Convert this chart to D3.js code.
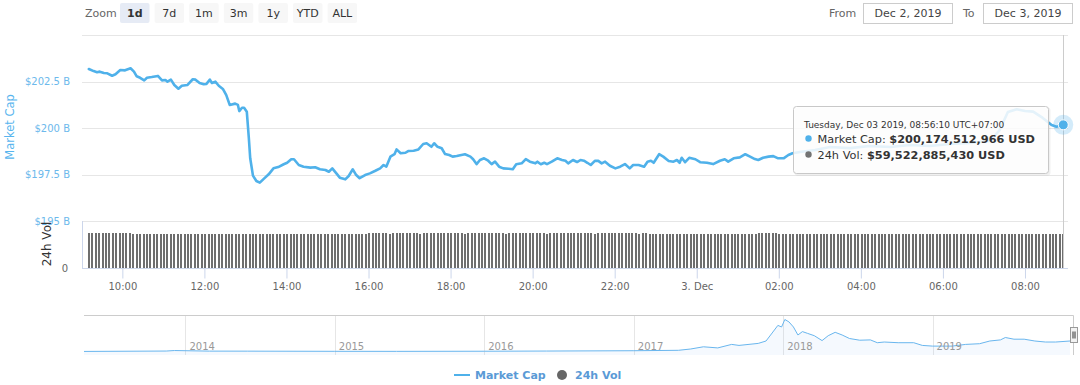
<!DOCTYPE html>
<html>
<head>
<meta charset="utf-8">
<script src="https://cdn.jsdelivr.net/npm/d3@7"></script>
<style>
body { margin: 0; background: #fff; }
svg { display: block; font-family: "DejaVu Sans", sans-serif; }
</style>
</head>
<body>
<div id="chart"></div>
<script>
// market cap, Dec 2 - Dec 3 2019 (billions USD)
var capTimes = [
  "02 09:11","02 09:18","02 09:23","02 09:27","02 09:33","02 09:38","02 09:45","02 09:50","02 09:57","02 10:04",
  "02 10:12","02 10:17","02 10:21","02 10:26","02 10:32","02 10:36","02 10:43","02 10:52","02 10:58","02 11:03",
  "02 11:06","02 11:11","02 11:16","02 11:22","02 11:27","02 11:35","02 11:43","02 11:47","02 11:53","02 11:59",
  "02 12:03","02 12:08","02 12:11","02 12:16","02 12:21","02 12:27","02 12:32","02 12:37","02 12:45","02 12:49",
  "02 12:51","02 12:55","02 12:58","02 13:02","02 13:05","02 13:07","02 13:11","02 13:16","02 13:21","02 13:26",
  "02 13:34","02 13:41","02 13:48","02 13:56","02 14:01","02 14:07","02 14:11","02 14:18","02 14:25","02 14:35",
  "02 14:42","02 14:49","02 14:57","02 15:02","02 15:07","02 15:13","02 15:18","02 15:26","02 15:31","02 15:37",
  "02 15:42","02 15:47","02 15:55","02 16:02","02 16:10","02 16:17","02 16:22","02 16:26","02 16:32","02 16:38",
  "02 16:41","02 16:47","02 16:54","02 16:58","02 17:06","02 17:13","02 17:20","02 17:25","02 17:32","02 17:36",
  "02 17:41","02 17:47","02 17:52","02 17:58","02 18:03","02 18:09","02 18:21","02 18:29","02 18:33","02 18:38",
  "02 18:43","02 18:49","02 18:55","02 19:00","02 19:05","02 19:11","02 19:17","02 19:25","02 19:31","02 19:36",
  "02 19:44","02 19:50","02 19:56","02 20:04","02 20:07","02 20:12","02 20:17","02 20:21","02 20:28","02 20:36",
  "02 20:43","02 20:48","02 20:52","02 20:59","02 21:05","02 21:10","02 21:15","02 21:20","02 21:25","02 21:31",
  "02 21:36","02 21:41","02 21:46","02 21:53","02 22:01","02 22:08","02 22:15","02 22:22","02 22:27","02 22:35",
  "02 22:43","02 22:48","02 22:53","02 22:57","02 23:05","02 23:11","02 23:19","02 23:26","02 23:31","02 23:35",
  "02 23:38","02 23:43","02 23:49","02 23:58","03 00:05","03 00:15","03 00:24","03 00:34","03 00:41","03 00:46",
  "03 00:54","03 01:03","03 01:11","03 01:18","03 01:25","03 01:30","03 01:37","03 01:45","03 01:52","03 01:59",
  "03 02:07","03 02:14","03 02:20","03 02:31","03 02:53","03 03:15","03 03:44","03 04:13","03 04:43","03 05:12",
  "03 05:41","03 06:10","03 06:39","03 07:09","03 07:23","03 07:35","03 07:48","03 08:00","03 08:12","03 08:26",
  "03 08:39","03 08:46","03 08:56"
];
var capValues = [
  203.17,203.06,203.00,203.03,202.96,202.94,202.81,202.89,203.12,203.10,
  203.21,203.03,202.78,202.70,202.56,202.70,202.74,202.80,202.56,202.58,
  202.49,202.60,202.31,202.11,202.27,202.31,202.62,202.60,202.42,202.35,
  202.37,202.60,202.42,202.49,202.27,202.10,201.77,201.24,201.31,201.24,
  200.91,201.09,201.09,200.88,199.45,198.37,197.44,197.15,197.06,197.24,
  197.51,197.83,197.90,198.05,198.13,198.32,198.32,198.01,197.92,197.87,
  197.89,197.78,197.74,197.65,197.83,197.56,197.33,197.24,197.42,197.78,
  197.47,197.30,197.47,197.56,197.70,197.83,198.01,197.92,198.46,198.59,
  198.85,198.64,198.67,198.76,198.78,198.85,199.14,199.18,198.99,199.18,
  198.99,198.91,198.60,198.55,198.46,198.49,198.59,198.46,198.32,198.06,
  198.28,198.37,198.24,198.06,198.19,197.92,197.83,197.81,197.78,198.05,
  198.10,198.33,198.19,198.10,198.19,198.05,198.13,198.06,198.19,198.37,
  198.28,198.24,198.10,198.28,198.17,198.28,198.24,198.13,198.01,198.23,
  198.23,198.10,198.19,197.97,197.83,197.92,198.06,197.83,198.01,198.01,
  197.92,198.19,198.24,198.13,198.59,198.46,198.23,198.19,198.28,198.13,
  198.40,198.16,198.40,198.32,198.16,198.13,198.06,198.24,198.32,198.19,
  198.37,198.42,198.59,198.46,198.33,198.28,198.40,198.46,198.49,198.37,
  198.37,198.55,198.64,198.71,198.82,198.98,198.92,199.03,198.98,199.09,
  199.03,199.14,199.19,199.30,199.89,200.86,201.01,200.91,200.88,200.54,
  200.16,200.07,200.17
];
var capTicks = [195, 197.5, 200, 202.5, 205];

// 24h volume, one bar every 5 minutes (billions USD)
var volStart = "02 09:11";
var volValues = [
  61.3,61.2,61.2,61.1,61.1,61.0,61.0,60.7,60.6,60.6,
  60.5,60.5,60.6,59.7,59.6,59.6,59.6,59.5,59.6,59.6,
  59.6,59.5,59.5,59.6,59.6,59.7,59.6,59.6,59.5,59.5,
  59.6,59.6,59.6,59.7,59.7,59.6,59.6,59.5,59.5,59.6,
  59.6,59.6,59.5,59.5,59.6,59.6,59.6,59.7,59.6,59.6,
  59.6,59.5,59.5,59.6,59.6,59.6,59.5,59.6,59.6,59.7,
  59.7,59.6,59.6,59.6,59.5,59.5,59.6,59.6,59.6,59.6,
  59.6,59.7,59.6,59.6,59.6,59.5,59.6,59.6,59.7,59.8,
  59.9,60.0,60.2,60.2,60.3,60.2,60.2,60.2,60.1,60.2,
  60.2,60.2,60.3,60.3,60.2,60.2,60.2,60.1,60.2,60.2,
  60.2,60.3,60.2,60.2,60.2,60.2,60.3,60.2,60.2,60.2,
  60.1,60.2,60.2,60.2,60.2,60.3,60.3,60.2,60.2,60.2,
  60.2,60.2,60.1,60.2,60.2,60.2,60.2,60.3,60.2,60.2,
  60.2,60.2,60.2,60.2,60.1,60.2,60.2,60.2,60.3,60.2,
  60.2,60.2,60.2,60.2,60.2,60.3,60.2,60.2,60.1,60.2,
  60.2,60.2,60.2,60.2,60.2,60.2,60.2,60.3,60.2,60.2,
  60.2,60.1,60.2,60.2,60.1,60.0,59.9,59.7,59.6,59.6,
  59.6,59.6,59.5,59.6,59.6,59.6,59.6,59.5,59.6,59.6,
  59.6,59.6,59.6,59.5,59.6,59.6,59.6,59.6,59.6,59.5,
  59.6,59.6,59.7,59.6,59.8,60.1,60.4,60.6,60.6,60.5,
  60.4,60.2,59.7,59.6,59.5,59.5,59.6,59.5,59.5,59.5,
  59.5,59.6,59.5,59.5,59.5,59.5,59.6,59.5,59.5,59.5,
  59.5,59.5,59.5,59.6,59.5,59.5,59.5,59.5,59.4,59.5,
  59.5,59.5,59.5,59.5,59.6,59.5,59.5,59.5,59.5,59.5,
  59.5,59.4,59.5,59.5,59.5,59.5,59.5,59.6,59.5,59.5,
  59.5,59.5,59.5,59.5,59.5,59.4,59.5,59.5,59.5,59.5,
  59.5,59.5,59.6,59.5,59.5,59.5,59.5,59.5,59.5,59.5,
  59.5,59.5,59.5,59.4,59.5,59.5,59.5,59.5,59.5,59.5,
  59.5,59.5,59.5,59.5,59.5,59.52
];

// navigator: whole history
var navDates = [
  "2013-04-28","2013-11-15","2013-12-05","2014-03-01","2014-06-01","2015-01-01","2015-06-01","2016-01-01","2016-06-01","2017-01-01",
  "2017-04-20","2017-05-20","2017-06-20","2017-07-25","2017-08-28","2017-09-15","2017-11-01","2017-11-20","2017-12-05","2017-12-19",
  "2017-12-28","2018-01-05","2018-01-15","2018-01-26","2018-02-06","2018-02-17","2018-03-01","2018-03-18","2018-04-06","2018-04-21",
  "2018-05-08","2018-05-25","2018-06-12","2018-07-07","2018-08-02","2018-08-19","2018-09-05","2018-10-09","2018-11-16","2018-12-07",
  "2019-01-01","2019-02-18","2019-03-23","2019-04-26","2019-05-21","2019-06-16","2019-06-28","2019-07-19","2019-08-13","2019-09-08",
  "2019-10-04","2019-10-29","2019-12-03"
];
var navValues = [
  2,12,25,10,9,5,4,7,12,20,
  31,65,122,93,184,158,210,272,480,677,
  636,830,768,636,428,516,472,410,283,410,
  498,428,337,293,301,228,246,228,228,158,
  140,140,184,202,272,301,363,319,319,272,
  246,246,272
];
var navYears = [2014, 2015, 2016, 2017, 2018, 2019];

var zoomButtons = ["1d", "7d", "1m", "3m", "1y", "YTD", "ALL"];
var fromDate = "Dec 2, 2019";
var toDate = "Dec 3, 2019";
var tipHeader = "Tuesday, Dec 03 2019, 08:56:10 UTC+07:00";
var tipCap = "$200,174,512,966 USD";
var tipVol = "$59,522,885,430 USD";

var lineColor = "#4fb1ea";
var labelBlue = "#6cb9ec";

var width = 1080, height = 385;
var parseTime = d3.timeParse("%Y-%m-%d %H:%M");
function t(s) { return parseTime("2019-12-" + s); }

var svg = d3.select("#chart").append("svg")
    .attr("width", width)
    .attr("height", height);

var x = d3.scaleTime()
    .domain([t("02 09:01"), t("03 09:00")])
    .range([82, 1066]);
var y = d3.scaleLinear().domain([195, 205]).range([221, 35]);
var yVol = d3.scaleLinear().domain([0, 82]).range([268, 221]);

// gridlines
svg.append("g").selectAll("line")
    .data(capTicks)
    .enter().append("line")
    .attr("x1", 82).attr("x2", 1068)
    .attr("y1", d => Math.round(y(d)) + 0.5)
    .attr("y2", d => Math.round(y(d)) + 0.5)
    .attr("stroke", "#e6e6e6");

svg.append("g").selectAll("text")
    .data(capTicks.filter(d => d < 205))
    .enter().append("text")
    .attr("x", 70)
    .attr("y", d => y(d) + 3.5)
    .attr("text-anchor", "end")
    .attr("font-size", 10)
    .attr("fill", labelBlue)
    .text(d => "$" + d + " B");

svg.append("text")
    .attr("transform", "translate(14,127) rotate(-90)")
    .attr("text-anchor", "middle")
    .attr("font-size", 11.5)
    .attr("fill", "#58b5ee")
    .text("Market Cap");

// volume panel
svg.append("line")
    .attr("x1", 82.5).attr("x2", 82.5)
    .attr("y1", 221).attr("y2", 268)
    .attr("stroke", "#ccd6eb");

var volStep = x(d3.timeMinute.offset(t(volStart), 5)) - x(t(volStart));
svg.append("g")
    .attr("shape-rendering", "crispEdges")
    .selectAll("rect")
    .data(volValues)
    .enter().append("rect")
    .attr("x", (d, i) => Math.round(x(d3.timeMinute.offset(t(volStart), 5 * i)) - 1))
    .attr("width", 2)
    .attr("y", d => Math.round(yVol(d)))
    .attr("height", d => 268 - Math.round(yVol(d)))
    .attr("fill", "#6e6e6e");

svg.append("text")
    .attr("x", 68).attr("y", 271.5)
    .attr("text-anchor", "end")
    .attr("font-size", 10)
    .attr("fill", "#666")
    .text("0");

svg.append("text")
    .attr("transform", "translate(51,244) rotate(-90)")
    .attr("text-anchor", "middle")
    .attr("font-size", 12)
    .attr("fill", "#333")
    .text("24h Vol");

// x axis
var xAxis = d3.axisBottom(x)
    .ticks(d3.timeHour.every(2))
    .tickSize(10)
    .tickSizeOuter(0)
    .tickPadding(4)
    .tickFormat(d => d.getHours() === 0 ? d3.timeFormat("%-d. %b")(d) : d3.timeFormat("%H:%M")(d));

var gx = svg.append("g")
    .attr("transform", "translate(0,268.5)")
    .call(xAxis);
gx.select(".domain").remove();
gx.selectAll(".tick line").attr("stroke", "#ccd6eb");
gx.selectAll(".tick text")
    .attr("fill", "#666")
    .attr("font-size", 10)
    .attr("font-family", "DejaVu Sans, sans-serif");
svg.append("line")
    .attr("x1", 82).attr("x2", 1068)
    .attr("y1", 268.5).attr("y2", 268.5)
    .attr("stroke", "#ccd6eb");

// crosshair
svg.append("line")
    .attr("x1", Math.round(x(t("03 08:56"))) + 0.5)
    .attr("x2", Math.round(x(t("03 08:56"))) + 0.5)
    .attr("y1", 35).attr("y2", 268)
    .attr("stroke", "#cccccc");

// market cap line
var capData = capTimes.map((s, i) => ({ date: t(s), value: capValues[i] }));
var line = d3.line()
    .x(d => x(d.date))
    .y(d => y(d.value));

svg.append("path")
    .datum(capData)
    .attr("fill", "none")
    .attr("stroke", lineColor)
    .attr("stroke-width", 2.6)
    .attr("stroke-linejoin", "round")
    .attr("stroke-linecap", "round")
    .attr("d", line);

var last = capData[capData.length - 1];
svg.append("circle")
    .attr("cx", x(last.date)).attr("cy", y(last.value))
    .attr("r", 10)
    .attr("fill", lineColor)
    .attr("opacity", 0.25);
svg.append("circle")
    .attr("cx", x(last.date)).attr("cy", y(last.value))
    .attr("r", 5)
    .attr("fill", lineColor)
    .attr("stroke", "#fff")
    .attr("stroke-width", 1);

// tooltip
var tip = svg.append("g").attr("transform", "translate(793,106)");
tip.append("rect")
    .attr("x", 1.5).attr("y", 1.5)
    .attr("width", 256).attr("height", 68)
    .attr("rx", 3)
    .attr("fill", "rgba(0,0,0,0.06)");
tip.append("rect")
    .attr("x", 0.5).attr("y", 0.5)
    .attr("width", 255).attr("height", 67)
    .attr("rx", 3)
    .attr("fill", "rgba(255,255,255,0.85)")
    .attr("stroke", "#c8c8c8");
tip.append("text")
    .attr("x", 11).attr("y", 22)
    .attr("font-size", 9)
    .attr("fill", "#333")
    .text(tipHeader);

var tipRows = [
  { color: lineColor, name: "Market Cap: ", value: tipCap },
  { color: "#737373", name: "24h Vol: ", value: tipVol }
];
tipRows.forEach(function(r, i) {
    var yy = 36.5 + i * 16;
    tip.append("circle")
        .attr("cx", 15.5).attr("cy", yy - 4)
        .attr("r", 3.2)
        .attr("fill", r.color);
    var txt = tip.append("text")
        .attr("x", 24.5).attr("y", yy)
        .attr("font-size", 11.3)
        .attr("fill", "#333");
    txt.append("tspan").text(r.name);
    txt.append("tspan").attr("font-weight", "bold").text(r.value);
});

// navigator
var navTop = 315.5, navBottom = 355;
var parseDay = d3.timeParse("%Y-%m-%d");
var xNav = d3.scaleTime()
    .domain([parseDay("2013-04-28"), parseDay("2019-12-03")])
    .range([84, 1070]);
var yNav = d3.scaleLinear().domain([0, 830]).range([351.5, 319.5]);
var navData = navDates.map((s, i) => ({ date: parseDay(s), value: navValues[i] }));

svg.append("g").selectAll("line")
    .data(navYears)
    .enter().append("line")
    .attr("x1", d => Math.round(xNav(new Date(d, 0, 1))) + 0.5)
    .attr("x2", d => Math.round(xNav(new Date(d, 0, 1))) + 0.5)
    .attr("y1", navTop).attr("y2", navBottom)
    .attr("stroke", "#e6e6e6");

svg.append("path")
    .datum(navData)
    .attr("fill", "rgba(124,181,236,0.08)")
    .attr("d", d3.area().x(d => xNav(d.date)).y0(navBottom).y1(d => yNav(d.value)));
svg.append("path")
    .datum(navData)
    .attr("fill", "none")
    .attr("stroke", "#69b6ee")
    .attr("stroke-width", 1)
    .attr("d", d3.line().x(d => xNav(d.date)).y(d => yNav(d.value)));

svg.append("g").selectAll("text")
    .data(navYears)
    .enter().append("text")
    .attr("x", d => xNav(new Date(d, 0, 1)) + 4)
    .attr("y", 350)
    .attr("font-size", 10)
    .attr("fill", "#999")
    .text(d => d);

svg.append("path")
    .attr("d", "M84," + navTop + "H1073.5V" + navBottom)
    .attr("fill", "none")
    .attr("stroke", "#cccccc");

var handle = svg.append("g").attr("transform", "translate(1070.5,327.5)");
handle.append("rect")
    .attr("width", 7).attr("height", 15)
    .attr("fill", "#f2f2f2").attr("stroke", "#999");
handle.append("path")
    .attr("d", "M2.5,4V11M4.5,4V11")
    .attr("stroke", "#333");

// legend
var legend = svg.append("g").attr("font-size", 11).attr("font-weight", "bold");
legend.append("line")
    .attr("x1", 454).attr("x2", 470)
    .attr("y1", 375).attr("y2", 375)
    .attr("stroke", lineColor).attr("stroke-width", 2);
legend.append("text")
    .attr("x", 475).attr("y", 379)
    .attr("fill", "#5a9ad6")
    .text("Market Cap");
legend.append("circle")
    .attr("cx", 562).attr("cy", 375)
    .attr("r", 5)
    .attr("fill", "#666");
legend.append("text")
    .attr("x", 575).attr("y", 379)
    .attr("fill", "#5a9ad6")
    .text("24h Vol");

// range selector
var rangeBar = svg.append("g").attr("font-size", 11);
rangeBar.append("text")
    .attr("x", 85).attr("y", 17)
    .attr("fill", "#666")
    .text("Zoom");
zoomButtons.forEach(function(b, i) {
    var bx = 120 + i * 34.6;
    rangeBar.append("rect")
        .attr("x", bx).attr("y", 3)
        .attr("width", 29.5).attr("height", 20)
        .attr("rx", 2)
        .attr("fill", i === 0 ? "#e6ebf5" : "#f7f7f7");
    rangeBar.append("text")
        .attr("x", bx + 14.75).attr("y", 17)
        .attr("text-anchor", "middle")
        .attr("font-weight", i === 0 ? "bold" : "normal")
        .attr("fill", "#333")
        .text(b);
});

rangeBar.append("text")
    .attr("x", 829).attr("y", 17)
    .attr("fill", "#666")
    .text("From");
rangeBar.append("rect")
    .attr("x", 863.5).attr("y", 3.5)
    .attr("width", 89).attr("height", 20)
    .attr("fill", "#fff").attr("stroke", "#cccccc");
rangeBar.append("text")
    .attr("x", 908).attr("y", 17)
    .attr("text-anchor", "middle")
    .attr("fill", "#444")
    .text(fromDate);
rangeBar.append("text")
    .attr("x", 963).attr("y", 17)
    .attr("fill", "#666")
    .text("To");
rangeBar.append("rect")
    .attr("x", 983.5).attr("y", 3.5)
    .attr("width", 89).attr("height", 20)
    .attr("fill", "#fff").attr("stroke", "#cccccc");
rangeBar.append("text")
    .attr("x", 1028).attr("y", 17)
    .attr("text-anchor", "middle")
    .attr("fill", "#444")
    .text(toDate);
</script>
</body>
</html>
